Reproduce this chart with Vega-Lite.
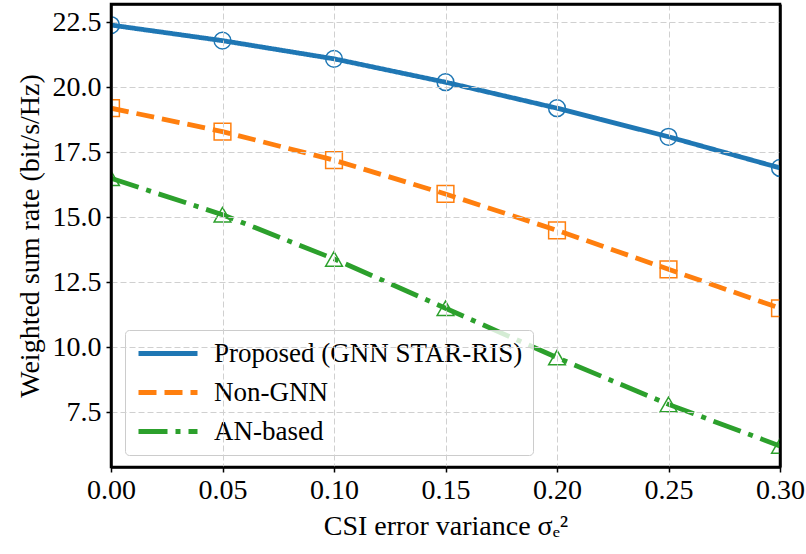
{
  "$schema": "https://vega.github.io/schema/vega-lite/v6.json",
  "autosize": {"type": "none"},
  "width": 669,
  "height": 463,
  "padding": {"left": 111, "top": 4, "right": 26, "bottom": 87},
  "background": "white",
  "config": {
    "view": {"stroke": "black", "strokeWidth": 2.5},
    "font": "Liberation Serif",
    "axis": {
      "labelFont": "Liberation Serif",
      "labelFontSize": 28,
      "labelFontWeight": "normal",
      "labelColor": "black",
      "titleFont": "Liberation Serif",
      "titleFontSize": 28,
      "titleFontWeight": "normal",
      "titleColor": "black",
      "tickColor": "black",
      "tickWidth": 1.5,
      "tickSize": 5,
      "gridColor": "#d0d0d0",
      "gridDash": [6, 3],
      "gridWidth": 1,
      "domainColor": "black",
      "domainWidth": 2.5
    },
    "legend": {
      "labelFont": "Liberation Serif"
    }
  },
  "data": {
    "values": [
      {"x": 0.00, "y": 22.4, "series": "Proposed (GNN STAR-RIS)"},
      {"x": 0.05, "y": 21.8, "series": "Proposed (GNN STAR-RIS)"},
      {"x": 0.10, "y": 21.1, "series": "Proposed (GNN STAR-RIS)"},
      {"x": 0.15, "y": 20.2, "series": "Proposed (GNN STAR-RIS)"},
      {"x": 0.20, "y": 19.2, "series": "Proposed (GNN STAR-RIS)"},
      {"x": 0.25, "y": 18.1, "series": "Proposed (GNN STAR-RIS)"},
      {"x": 0.30, "y": 16.9, "series": "Proposed (GNN STAR-RIS)"},
      {"x": 0.00, "y": 19.2, "series": "Non-GNN"},
      {"x": 0.05, "y": 18.3, "series": "Non-GNN"},
      {"x": 0.10, "y": 17.2, "series": "Non-GNN"},
      {"x": 0.15, "y": 15.9, "series": "Non-GNN"},
      {"x": 0.20, "y": 14.5, "series": "Non-GNN"},
      {"x": 0.25, "y": 13.0, "series": "Non-GNN"},
      {"x": 0.30, "y": 11.5, "series": "Non-GNN"},
      {"x": 0.00, "y": 16.5, "series": "AN-based"},
      {"x": 0.05, "y": 15.1, "series": "AN-based"},
      {"x": 0.10, "y": 13.4, "series": "AN-based"},
      {"x": 0.15, "y": 11.5, "series": "AN-based"},
      {"x": 0.20, "y": 9.6, "series": "AN-based"},
      {"x": 0.25, "y": 7.8, "series": "AN-based"},
      {"x": 0.30, "y": 6.2, "series": "AN-based"}
    ]
  },
  "layer": [
    {
      "mark": {"type": "line", "strokeWidth": 4.8, "clip": true},
      "encoding": {
        "x": {
          "field": "x", "type": "quantitative",
          "scale": {"domain": [0, 0.3], "nice": false, "zero": false},
          "axis": {"values": [0, 0.05, 0.1, 0.15, 0.2, 0.25, 0.3], "format": ".2f", "labelFont": "Liberation Serif", "labelFlush": false, "labelPadding": 4, "titlePadding": 8, "title": "CSI error variance σₑ²", "zindex": 1,
            "gridOpacity": {"condition": {"test": "datum.value <= 0.001 || datum.value >= 0.299", "value": 0}, "value": 1}}
        },
        "y": {
          "field": "y", "type": "quantitative",
          "scale": {"domain": [5.39, 23.21], "nice": false, "zero": false},
          "axis": {"values": [7.5, 10, 12.5, 15, 17.5, 20, 22.5], "format": ".1f", "labelFont": "Liberation Serif", "labelPadding": 5, "titlePadding": 8, "title": "Weighted sum rate (bit/s/Hz)", "zindex": 1}
        },
        "color": {
          "field": "series", "type": "nominal",
          "scale": {"domain": ["Proposed (GNN STAR-RIS)", "Non-GNN", "AN-based"], "range": ["#1f77b4", "#ff7f0e", "#2ca02c"]},
          "legend": {"orient": "none", "legendX": 14, "legendY": 326, "title": null, "symbolType": "M-2,0H9.8", "symbolSize": 100, "symbolStrokeWidth": 4.8, "labelFont": "Liberation Serif", "labelFontSize": 27, "labelColor": "black", "labelOffset": 52, "labelLimit": 0, "rowPadding": 11, "padding": 10, "fillColor": "rgba(255,255,255,0.8)", "strokeColor": "#cccccc", "cornerRadius": 4}
        },
        "strokeDash": {
          "field": "series", "type": "nominal",
          "scale": {"domain": ["Proposed (GNN STAR-RIS)", "Non-GNN", "AN-based"], "range": [[1, 0], [18, 8], [29, 8, 5, 8]]},
          "legend": {"orient": "none", "legendX": 14, "legendY": 326, "title": null, "symbolType": "M-2,0H9.8", "symbolSize": 100, "symbolStrokeWidth": 4.8, "labelFont": "Liberation Serif", "labelFontSize": 27, "labelColor": "black", "labelOffset": 52, "labelLimit": 0, "rowPadding": 11, "padding": 10, "fillColor": "rgba(255,255,255,0.8)", "strokeColor": "#cccccc", "cornerRadius": 4}
        }
      }
    },
    {
      "mark": {"type": "point", "filled": false, "size": 280, "strokeWidth": 1.5, "opacity": 1, "clip": true},
      "encoding": {
        "x": {"field": "x", "type": "quantitative", "axis": null},
        "y": {"field": "y", "type": "quantitative", "axis": null},
        "color": {
          "field": "series", "type": "nominal",
          "scale": {"domain": ["Proposed (GNN STAR-RIS)", "Non-GNN", "AN-based"], "range": ["#1f77b4", "#ff7f0e", "#2ca02c"]},
          "legend": null
        },
        "shape": {
          "field": "series", "type": "nominal",
          "scale": {"domain": ["Proposed (GNN STAR-RIS)", "Non-GNN", "AN-based"], "range": ["circle", "square", "triangle-up"]},
          "legend": {"orient": "none", "legendX": 14, "legendY": 326, "title": null, "symbolSize": 100, "symbolStrokeWidth": 1.5, "symbolFillColor": "transparent", "labelFont": "Liberation Serif", "labelFontSize": 27, "labelColor": "transparent", "labelOffset": 54, "labelLimit": 0, "rowPadding": 11, "padding": 10,
            "encode": {"symbols": {"update": {
              "shape": {"signal": "datum.value === 'Non-GNN' ? 'M2.55,-1.6H5.75V1.6H2.55Z' : datum.value === 'AN-based' ? 'M4.15,-1.8L5.95,1.4H2.35Z' : 'M5.65,0A1.5,1.5,0,1,1,2.65,0A1.5,1.5,0,1,1,5.65,0Z'"},
              "stroke": {"signal": "datum.value === 'Non-GNN' ? '#ff7f0e' : datum.value === 'AN-based' ? '#2ca02c' : '#1f77b4'"},
              "fill": {"value": "transparent"},
              "opacity": {"value": 1}
            }}}
          }
        }
      }
    },
    {
      "mark": {"type": "point", "opacity": 0},
      "encoding": {
        "x": {"field": "x", "type": "quantitative", "axis": {"orient": "top", "labels": false, "ticks": false, "grid": false, "domain": true, "title": null, "zindex": 2}},
        "y": {"field": "y", "type": "quantitative", "axis": {"orient": "right", "labels": false, "ticks": false, "grid": false, "domain": true, "title": null, "zindex": 2}}
      }
    }
  ],
  "resolve": {
    "legend": {"color": "independent", "shape": "independent", "strokeDash": "independent"},
    "axis": {"x": "independent", "y": "independent"}
  }
}
